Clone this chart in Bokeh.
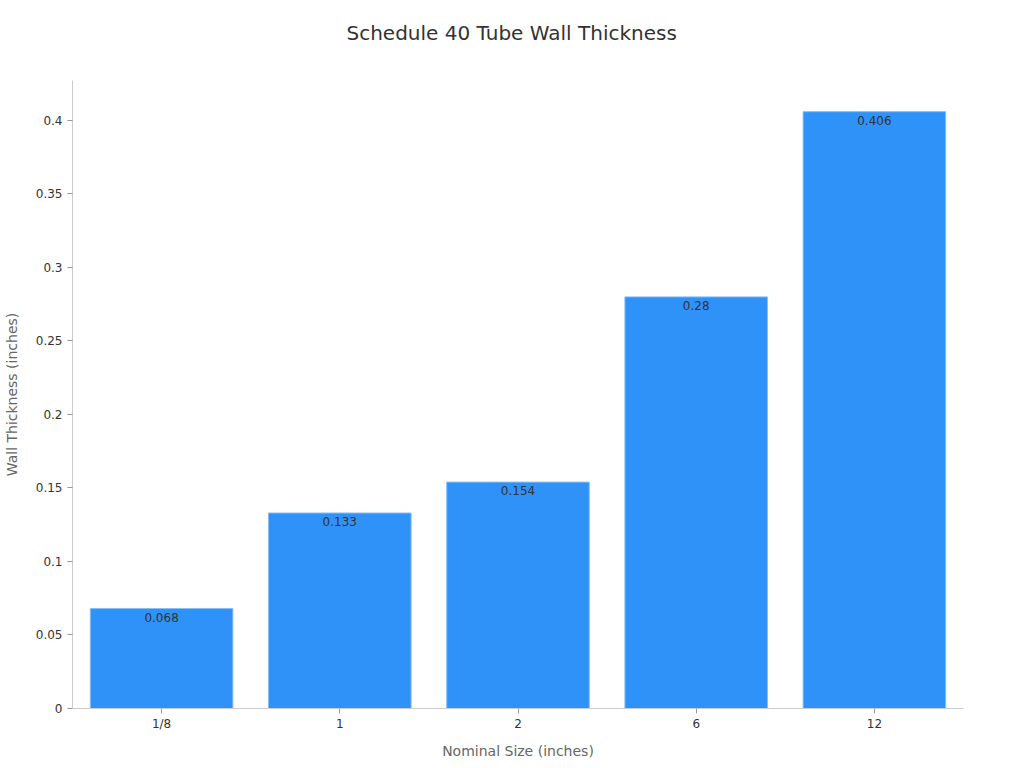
from bokeh.plotting import figure
from bokeh.models import ColumnDataSource, Range1d, FactorRange, SingleIntervalTicker, Title
from bokeh.core.properties import value
from bokeh.embed import file_html
from bokeh.resources import INLINE

title_text = "Schedule 40 Tube Wall Thickness"
sizes = ["1/8", "1", "2", "6", "12"]
thickness = [0.068, 0.133, 0.154, 0.28, 0.406]
labels = ["0.068", "0.133", "0.154", "0.28", "0.406"]

src = ColumnDataSource(dict(x=sizes, top=thickness, label=labels))

p = figure(frame_width=891, frame_height=628, x_range=FactorRange(*sizes), y_range=Range1d(0, 0.4272),
           output_backend="svg", toolbar_location=None,
           min_border_left=64, min_border_right=45, min_border_top=80, min_border_bottom=52)

FONT = "DejaVu Sans"
p.title.text = title_text
p.title.align = "left"
p.title.offset = 274
p.title.text_font = FONT
p.title.text_font_size = "20px"
p.title.text_font_style = "normal"
p.title.text_color = "#333333"
p.title.standoff = 10

# empty spacer between the title and the plot frame
spacer = Title(text=" ", text_font_size="1px", standoff=28)
p.add_layout(spacer, "above")

p.vbar(x="x", top="top", width=0.8, source=src, fill_color="#2f92f8", line_color="#86bdf6", line_width=1)
p.text(x="x", y="top", text="label", source=src, text_align="center", text_baseline="top",
       y_offset=4, text_font=value(FONT), text_font_size="12px", text_color="#333333")

p.xgrid.visible = False
p.ygrid.visible = False
p.outline_line_color = None

p.yaxis.ticker = SingleIntervalTicker(interval=0.05)
p.xaxis.axis_label = "Nominal Size (inches)"
p.yaxis.axis_label = "Wall Thickness (inches)"
for ax in (p.xaxis, p.yaxis):
    ax.axis_label_text_font = FONT
    ax.axis_label_text_font_size = "14px"
    ax.axis_label_text_font_style = "normal"
    ax.axis_label_text_color = "#666666"
    ax.major_label_text_font = FONT
    ax.major_label_text_font_size = "12px"
    ax.major_label_text_color = "#333333"
    ax.axis_line_color = "#cccccc"
    ax.major_tick_line_color = "#999999"
    ax.minor_tick_line_color = None
    ax.major_tick_in = 0
    ax.major_tick_out = 5
p.xaxis.major_label_standoff = 3
p.xaxis.axis_label_standoff = 9
p.yaxis.axis_label_standoff = 13

open("out.html", "w").write(file_html(p, INLINE))
